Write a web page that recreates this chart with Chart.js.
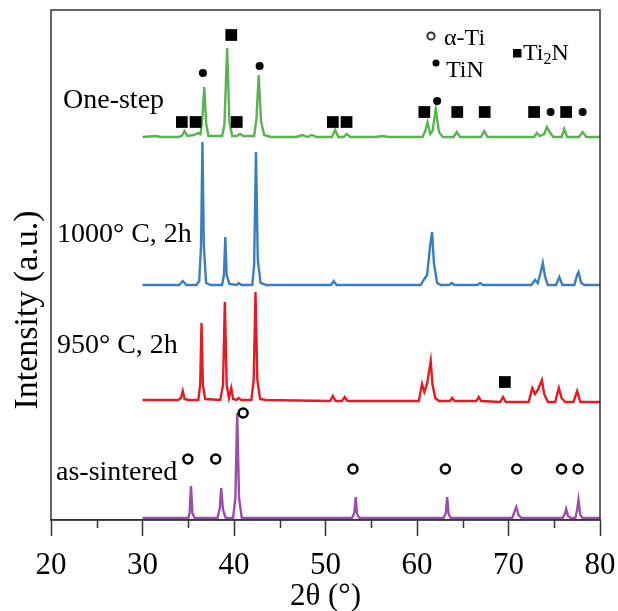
<!DOCTYPE html>
<html lang="en">
<head>
    <meta charset="UTF-8">
    <title>XRD patterns</title>
    <script src="https://cdn.jsdelivr.net/npm/chart.js"></script>
    <style>
        body { margin: 0; background: #FFFFFF; }
        #wrap { width: 618px; height: 611px; }
    </style>
</head>
<body>
<div id="wrap"><canvas id="xrdChart" width="618" height="611"></canvas></div>

<script>
    // 2theta tick labels
    const xTicks = [20, 30, 40, 50, 60, 70, 80];
    const seriesNames = ["One-step", "1000\u00B0 C, 2h", "950\u00B0 C, 2h", "as-sintered"];
    const seriesColors = ["#58B44C", "#3A7EC1", "#E51B20", "#9B4DAE"];
    // vertical offset of each pattern (a.u.)
    const baselines = [383, 235, 120, 2];

    // [2theta, relative intensity]
    const oneStep = [[30,0],[31.5,1],[32,0],[33.9,0],[34.3,1],[34.6,6],[34.9,1],[35.6,2],[36.05,4],[36.35,3],[36.55,20],[36.75,50],[36.95,14],[37.2,1],[38.7,1],[38.95,12],[39.25,89],[39.5,15],[39.8,1],[40.3,1],[40.65,3],[41.0,1],[42.2,1],[42.45,18],[42.7,62],[42.95,16],[43.3,2],[44.0,0],[46.8,0],[47.5,2],[48.0,0],[48.5,2],[49.0,0],[50.7,0],[51.05,7],[51.4,0],[52.0,0],[52.3,3],[52.7,0],[55.5,0],[56.2,1],[57,0],[60.6,0],[60.9,6],[61.15,15],[61.45,3],[61.7,6],[62.05,28],[62.4,5],[62.8,0],[64.0,0],[64.35,5],[64.7,0],[67.0,0],[67.35,6],[67.7,0],[72.8,0],[73.1,4],[73.4,1],[73.9,3],[74.2,10],[74.5,5],[74.9,0],[75.8,0],[76.1,8],[76.4,0],[77.7,0],[78.1,5],[78.5,0],[80,0]];
    const t1000 = [[30,0],[34.0,0],[34.4,4],[34.8,0],[35.9,0],[36.2,4],[36.4,40],[36.55,143],[36.7,40],[36.95,2],[37.5,0],[38.7,0],[38.9,10],[39.05,48],[39.2,10],[39.5,1],[40.3,0],[40.5,2],[40.8,0],[42.0,0],[42.2,20],[42.4,133],[42.6,25],[42.9,2],[43.5,0],[50.6,0],[50.9,4],[51.2,0],[60.4,0],[60.8,6],[61.1,10],[61.45,40],[61.65,53],[61.85,22],[62.2,2],[62.6,0],[63.5,0],[63.8,2],[64.1,0],[66.6,0],[66.9,2],[67.2,0],[72.5,0],[72.9,5],[73.2,2],[73.5,12],[73.75,22],[74.0,8],[74.3,0],[75.2,0],[75.55,8],[75.9,0],[77.2,0],[77.5,10],[77.65,13],[77.95,2],[78.3,0],[80,0]];
    const t950 = [[30,0],[33.9,0],[34.2,2],[34.4,9],[34.6,1],[35.0,0],[36.1,0],[36.3,15],[36.45,77],[36.6,15],[36.85,1],[38.5,0],[38.8,15],[39.0,98],[39.2,15],[39.45,2],[39.7,12],[39.9,1],[40.3,0],[40.5,2],[40.8,0],[41.9,0],[42.15,20],[42.35,108],[42.55,20],[42.85,1],[43.5,0],[50.5,-1],[50.8,4],[51.1,-1],[51.8,-1],[52.1,3],[52.4,-1],[60.2,-1],[60.55,16],[60.8,8],[61.1,16],[61.5,39],[61.7,15],[62.0,2],[62.4,-1],[63.6,-1],[63.85,2],[64.1,-1],[66.5,-1],[66.75,3],[67.0,-1],[69.1,-2],[69.4,3],[69.7,-2],[72.2,-2],[72.6,12],[72.9,6],[73.2,10],[73.65,20],[73.9,6],[74.3,-2],[75.1,-2],[75.5,12],[75.8,2],[76.2,-2],[77.1,-2],[77.5,9],[77.85,-2],[80,-2]];
    const asSintered = [[30,0],[35.0,0],[35.15,5],[35.3,32],[35.45,5],[35.7,0],[38.2,0],[38.45,10],[38.6,30],[38.8,8],[39.1,0],[39.9,0],[40.15,20],[40.35,105],[40.55,20],[40.85,0],[52.9,0],[53.15,5],[53.3,21],[53.45,4],[53.7,0],[62.9,0],[63.15,5],[63.3,21],[63.45,4],[63.7,0],[70.4,0],[70.65,6],[70.85,11],[71.1,3],[71.4,0],[75.9,0],[76.15,4],[76.3,9],[76.5,2],[76.8,0],[77.3,0],[77.5,8],[77.65,18],[77.85,3],[78.1,0],[80,0]];
    const patterns = [oneStep, t1000, t950, asSintered];

    // phase markers [2theta, intensity]
    const alphaTi = [[34.96,61],[38.0,61],[41.0,107],[53.0,51],[63.1,51],[70.9,51],[75.8,51],[77.6,51]];
    const tiN = [[36.6,447],[42.8,454],[62.2,419],[74.6,408],[78.1,408]];
    const ti2N = [[34.3,398],[35.8,398],[39.7,485],[40.3,398],[50.8,398],[52.3,398],[60.8,408],[64.4,408],[67.4,408],[72.8,408],[76.3,408],[69.6,138]];

    const serif = "'Liberation Serif', 'Times New Roman', serif";
    const toXY = arr => arr.map(p => ({ x: p[0], y: p[1] }));

    const datasets = [
        { label: "a-Ti", type: "scatter", data: toXY(alphaTi), pointStyle: "circle", pointRadius: 4.5,
          pointBorderWidth: 2.5, pointBorderColor: "#000", pointBackgroundColor: "#FFF", order: 0 },
        { label: "TiN", type: "scatter", data: toXY(tiN), pointStyle: "circle", pointRadius: 4,
          pointBorderWidth: 0, pointBackgroundColor: "#000", order: 0 },
        { label: "Ti2N", type: "scatter", data: toXY(ti2N), pointStyle: "rect", pointRadius: 8.3,
          pointBorderWidth: 0, pointBackgroundColor: "#000", order: 0 }
    ];
    patterns.forEach((pat, i) => {
        datasets.push({
            label: seriesNames[i], type: "line",
            data: pat.map(p => ({ x: p[0], y: p[1] + baselines[i] })),
            borderColor: seriesColors[i], borderWidth: 2.4, pointRadius: 0, tension: 0, order: 1
        });
    });

    const decor = {
        id: "decor",
        afterDraw(chart) {
            const c = chart.ctx, a = chart.chartArea, xs = chart.scales.x;
            c.save();
            // frame
            c.strokeStyle = "#333"; c.lineWidth = 1.5;
            c.strokeRect(a.left, a.top, a.right - a.left, a.bottom - a.top);
            // minor ticks
            c.beginPath();
            for (let v = 25; v < 80; v += 10) {
                const px = Math.round(xs.getPixelForValue(v)) + 0.5;
                c.moveTo(px, a.bottom); c.lineTo(px, a.bottom + 8);
            }
            c.stroke();
            // sample names
            c.fillStyle = "#000";
            c.font = "28px " + serif;
            c.textBaseline = "alphabetic";
            c.textAlign = "left";
            const nameY = [108, 242, 353, 480];
            const nameX = [63, 57, 57, 56];
            seriesNames.forEach((n, i) => c.fillText(n, nameX[i], nameY[i]));
            // axis titles
            c.font = "31px " + serif;
            c.textAlign = "center";
            c.fillText("2\u03B8 (\u00B0)", (a.left + a.right) / 2, 605);
            c.save();
            c.translate(37, 310);
            c.rotate(-Math.PI / 2);
            c.font = "34px " + serif;
            c.fillText("Intensity (a.u.)", 0, 0);
            c.restore();
            // phase key
            c.textAlign = "left";
            c.font = "24px " + serif;
            c.lineWidth = 2;
            c.beginPath(); c.arc(431, 36, 3.6, 0, Math.PI * 2); c.stroke();
            c.fillText("\u03B1-Ti", 444, 45);
            c.beginPath(); c.arc(436, 63, 3.5, 0, Math.PI * 2); c.fill();
            c.fillText("TiN", 446, 77);
            c.fillRect(513, 49, 8.5, 8.5);
            c.fillText("Ti", 523, 60);
            let w = c.measureText("Ti").width;
            c.font = "16px " + serif;
            c.fillText("2", 523 + w, 64);
            let w2 = c.measureText("2").width;
            c.font = "24px " + serif;
            c.fillText("N", 523 + w + w2, 60);
            c.restore();
        }
    };

    new Chart(document.getElementById("xrdChart"), {
        data: { datasets: datasets },
        options: {
            responsive: false,
            animation: false,
            devicePixelRatio: 1,
            layout: { padding: { left: 51, right: 18, top: 10, bottom: 0 } },
            plugins: { legend: { display: false }, tooltip: { enabled: false } },
            scales: {
                x: {
                    type: "linear", min: 20, max: 80,
                    afterBuildTicks: s => { s.ticks = xTicks.map(v => ({ value: v })); },
                    afterFit: s => { s.height = 91; s.paddingLeft = 0; s.paddingRight = 0; },
                    grid: { drawOnChartArea: false, drawTicks: true, tickLength: 16, tickColor: "#333", tickWidth: 1.5 },
                    border: { color: "#333", width: 1.5 },
                    ticks: { color: "#000", font: { family: serif, size: 31 }, padding: 11, maxRotation: 0 }
                },
                y: { min: 0, max: 510, display: false }
            }
        },
        plugins: [decor]
    });
</script>
</body>
</html>
